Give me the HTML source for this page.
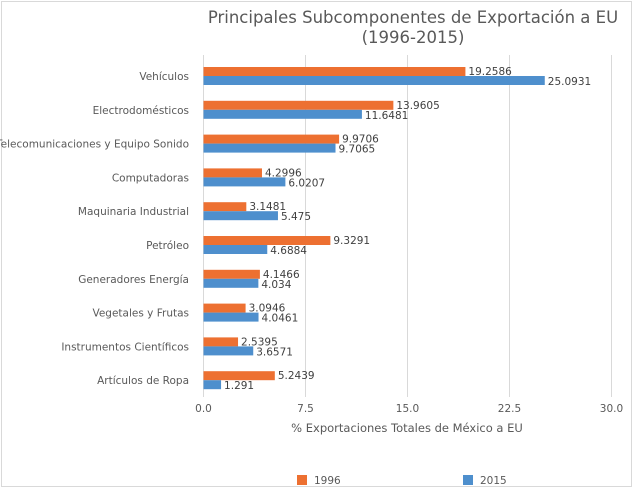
<!DOCTYPE html>
<html><head><meta charset="utf-8"><style>
body{margin:0;background:#fff;}
svg text{font-family:"DejaVu Sans","Liberation Sans",sans-serif;}
</style></head><body>
<svg width="634" height="490" xmlns="http://www.w3.org/2000/svg">
<rect x="1.5" y="1.5" width="630" height="485" fill="#fff" stroke="#d9d9d9"/>
<text x="413" y="23" text-anchor="middle" font-size="16.5" fill="#595959">Principales Subcomponentes de Exportación a EU</text>
<text x="413" y="43" text-anchor="middle" font-size="16.5" fill="#595959">(1996-2015)</text>
<g id="grid"></g>
<g id="bars"></g>
<text x="407" y="432" text-anchor="middle" font-size="11.5" fill="#595959">% Exportaciones Totales de México a EU</text>
<rect x="297" y="475" width="10" height="10" fill="#ed7031"/>
<text x="314" y="484" font-size="10.5" fill="#595959">1996</text>
<rect x="463" y="475" width="10" height="10" fill="#4e8fcd"/>
<text x="480" y="484" font-size="10.5" fill="#595959">2015</text>
</svg>
<script>
const categories=["Vehículos","Electrodomésticos","Telecomunicaciones y Equipo Sonido","Computadoras","Maquinaria Industrial","Petróleo","Generadores Energía","Vegetales y Frutas","Instrumentos Científicos","Artículos de Ropa"];
const values1996=[19.2586,13.9605,9.9706,4.2996,3.1481,9.3291,4.1466,3.0946,2.5395,5.2439];
const values2015=[25.0931,11.6481,9.7065,6.0207,5.475,4.6884,4.034,4.0461,3.6571,1.291];
const ticks=[0,7.5,15,22.5,30];
const tickLabels=["0.0","7.5","15.0","22.5","30.0"];
const NS="http://www.w3.org/2000/svg";
const x0=203.5,x1=611.5,xmax=30;
function xs(v){return x0+(x1-x0)*v/xmax;}
function yc(i){return 76+i*33.8;}
function mk(tag,attrs,parent,txt){const e=document.createElementNS(NS,tag);for(const k in attrs)e.setAttribute(k,attrs[k]);if(txt!==undefined)e.textContent=txt;parent.appendChild(e);return e;}
const grid=document.getElementById('grid'),bars=document.getElementById('bars');
ticks.forEach((t,i)=>{
  const l=mk('line',{x1:xs(t),x2:xs(t),y1:55,y2:397,stroke:'#d9d9d9','stroke-width':1},grid);
  
  
  const tx=mk('text',{x:xs(t),y:412,'text-anchor':'middle','font-size':10.5,fill:'#595959'},grid,tickLabels[i]);
  
  
});
categories.forEach((c,i)=>{
  const y=yc(i);
  const lab=mk('text',{x:189,y:y+4,'text-anchor':'end','font-size':10.5,fill:'#595959'},bars,c);
  
  
  const a=mk('rect',{x:x0,y:y-9,width:xs(values1996[i])-x0,height:9,fill:'#ed7031'},bars);
  
  
  const b=mk('rect',{x:x0,y:y,width:xs(values2015[i])-x0,height:9,fill:'#4e8fcd'},bars);
  
  
  const la=mk('text',{x:xs(values1996[i])+3,y:y-1,'font-size':10.5,fill:'#404040'},bars,String(values1996[i]));
  
  
  const lb=mk('text',{x:xs(values2015[i])+3,y:y+9,'font-size':10.5,fill:'#404040'},bars,String(values2015[i]));
  
  
});
</script>
</body></html>
